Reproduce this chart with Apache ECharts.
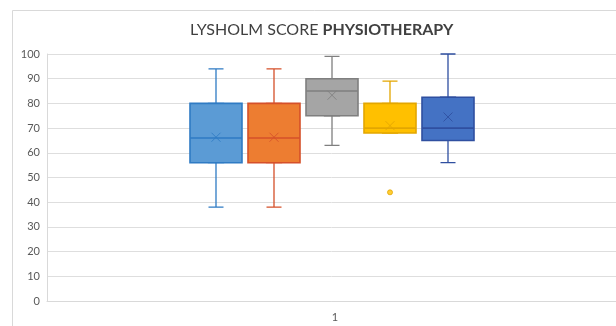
<!DOCTYPE html>
<html><head><meta charset="utf-8">
<script src="https://cdn.jsdelivr.net/npm/echarts@6/dist/echarts.min.js"></script>
<style>html,body{margin:0;padding:0;background:#fff}#c{width:616px;height:326px}</style>
</head><body><div id="c"></div>
<script>
// ---- data ----
const categories = ['1'];
const groupNames = ['G1', 'G2', 'G3', 'G4', 'G5'];
const mins    = [38, 38, 63, 68, 56];
const q1s     = [56, 56, 75, 68, 65];
const medians = [66, 66, 85, 70, 70];
const q3s     = [80, 80, 90, 80, 82.5];
const maxs    = [94, 94, 99, 89, 100];
const means   = [66.3, 66.3, 83.3, 71, 74.5];
const outlierGroups = [3];
const outlierValues = [44];
const yMin = 0, yMax = 100, yStep = 10;

// ---- styles ----
const fills   = ['#5B9BD5', '#ED7D31', '#A5A5A5', '#FFC000', '#4472C4'];
const borders = ['#2F7BC4', '#D5502A', '#7F7F7F', '#E3A600', '#2F4FA0'];
const font = 'Lato, "Open Sans", sans-serif';

const whiskerData = groupNames.map((g, i) => ({
  value: [mins[i], q1s[i], medians[i], q3s[i], maxs[i]],
  itemStyle: { color: fills[i], borderColor: borders[i], borderWidth: 1.3 }
}));
const boxData = groupNames.map((g, i) => ({
  value: [q1s[i], q1s[i], medians[i], q3s[i], q3s[i]],
  itemStyle: { color: fills[i], borderColor: borders[i], borderWidth: 1.6 }
}));
const meanData = groupNames.map((g, i) => ({
  value: [g, means[i]],
  itemStyle: { color: 'none', borderColor: borders[i], borderWidth: 1, opacity: 0.85 }
}));
const outlierData = outlierGroups.map((gi, k) => ({
  value: [groupNames[gi], outlierValues[k]],
  itemStyle: { color: fills[gi], borderColor: borders[gi], borderWidth: 1 }
}));

const chart = echarts.init(document.getElementById('c'), null, { renderer: 'canvas' });
chart.setOption({
  animation: false,
  backgroundColor: '#fff',
  title: {
    text: '{a|LYSHOLM SCORE }{b|PHYSIOTHERAPY}',
    left: 190, top: 19, padding: 0,
    textStyle: {
      fontWeight: 'normal',
      rich: {
        a: { fontSize: 16, color: '#404040', fontFamily: font, fontWeight: 'normal', lineHeight: 22 },
        b: { fontSize: 16, color: '#404040', fontFamily: font, fontWeight: 'bold', lineHeight: 22 }
      }
    }
  },
  graphic: [{
    type: 'rect', silent: true, z: -10,
    shape: { x: 12.5, y: 10.5, width: 800, height: 500 },
    style: { fill: 'none', stroke: '#d9d9d9', lineWidth: 1 }
  }],
  grid: [
    { left: 47, top: 54, right: 0, bottom: 25 },
    { left: 187, top: 54, width: 290, bottom: 25 }
  ],
  xAxis: [
    {
      type: 'category', gridIndex: 0, data: categories,
      axisLine: { lineStyle: { color: '#d9d9d9' } },
      axisTick: { show: false },
      axisLabel: { color: '#595959', fontSize: 11, fontFamily: font, margin: 11, padding: [0, 0, 0, 7] }
    },
    { type: 'category', gridIndex: 1, data: groupNames, show: false },
    { type: 'category', gridIndex: 1, data: groupNames, show: false, position: 'top' }
  ],
  yAxis: [
    {
      type: 'value', gridIndex: 0, min: yMin, max: yMax, interval: yStep,
      axisLine: { show: true, lineStyle: { color: '#d9d9d9' } },
      axisTick: { show: false },
      splitLine: { lineStyle: { color: '#dedede', width: 1 } },
      axisLabel: { color: '#595959', fontSize: 11, fontFamily: font, margin: 7 }
    },
    { type: 'value', gridIndex: 1, min: yMin, max: yMax, show: false }
  ],
  series: [
    {
      type: 'boxplot', xAxisIndex: 1, yAxisIndex: 1, boxWidth: [15, 15],
      data: whiskerData, z: 2
    },
    {
      type: 'boxplot', xAxisIndex: 2, yAxisIndex: 1, boxWidth: [52, 52],
      data: boxData, z: 3
    },
    {
      type: 'scatter', xAxisIndex: 1, yAxisIndex: 1,
      symbol: 'path://M0 0L10 10M10 0L0 10', symbolSize: 9,
      data: meanData, z: 4
    },
    {
      type: 'scatter', xAxisIndex: 1, yAxisIndex: 1,
      symbol: 'circle', symbolSize: 5,
      data: outlierData, z: 4
    }
  ]
});
</script>
</body></html>
